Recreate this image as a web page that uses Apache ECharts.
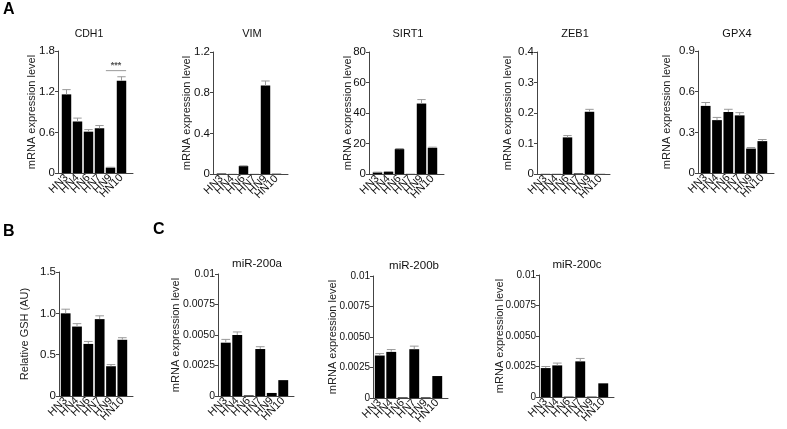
<!DOCTYPE html>
<html><head><meta charset="utf-8">
<script src="https://cdn.jsdelivr.net/npm/echarts@6/dist/echarts.min.js"></script>
<style>html,body{margin:0;padding:0;background:#fff}#c{width:787px;height:429px}</style>
</head><body><div id="c"></div>
<script>
const cats = ['HN3','HN4','HN6','HN7','HN9','HN10'];

const cdh1 = [1.16, 0.76, 0.61, 0.66, 0.08, 1.36];
const cdh1Err = [0.07, 0.05, 0.03, 0.04, 0.005, 0.06];
const vim = [0.005, 0.001, 0.078, 0.001, 0.87, 0.003];
const vimErr = [0, 0, 0.003, 0, 0.045, 0];
const sirt1 = [1.1, 1.5, 16.3, 0.1, 46.2, 17.2];
const sirt1Err = [0.1, 0.1, 0.4, 0, 2.6, 0.4];
const zeb1 = [0.0005, 0.0005, 0.12, 0.002, 0.204, 0.0005];
const zeb1Err = [0, 0, 0.006, 0, 0.008, 0];
const gpx4 = [0.495, 0.39, 0.45, 0.425, 0.18, 0.235];
const gpx4Err = [0.025, 0.02, 0.02, 0.02, 0.008, 0.012];
const gsh = [1.0, 0.84, 0.63, 0.93, 0.36, 0.68];
const gshErr = [0.05, 0.035, 0.03, 0.04, 0.02, 0.025];
const mir200a = [0.00437, 0.0050, 0.00005, 0.00385, 0.00025, 0.0013];
const mir200aErr = [0.00027, 0.00025, 0, 0.00019, 0, 0];
const mir200b = [0.00348, 0.00378, 0.00005, 0.0040, 0.00005, 0.0018];
const mir200bErr = [0.00016, 0.00019, 0, 0.00025, 0, 0];
const mir200c = [0.00237, 0.00259, 0.00003, 0.00292, 0.00003, 0.00112];
const mir200cErr = [0.00013, 0.00019, 0, 0.00024, 0, 0];

const ticksCDH1 = ['0','0.6','1.2','1.8'];
const ticksVIM = ['0','0.4','0.8','1.2'];
const ticksSIRT1 = ['0','20','40','60','80'];
const ticksZEB1 = ['0','0.1','0.2','0.3','0.4'];
const ticksGPX4 = ['0','0.3','0.6','0.9'];
const ticksGSH = ['0','0.5','1.0','1.5'];
const ticksMiR = ['0','0.0025','0.0050','0.0075','0.01'];

const sigCDH1 = {from: 'HN9', to: 'HN10', y: 1.51, label: '***'};

const FONT = 'Liberation Sans, Arial, sans-serif';

const panels = [
  {title:'CDH1', data:cdh1, err:cdh1Err, max:1.8, interval:0.6, ticks:ticksCDH1, name:'mRNA expression level',
   ax:58, top:51, bottom:173, right:133, dl:61, dw:66, nameGap:21, tx:89, ty:34, tfs:10.5, fs:11.5, sig:sigCDH1},
  {title:'VIM', data:vim, err:vimErr, max:1.2, interval:0.4, ticks:ticksVIM, name:'mRNA expression level',
   ax:213, top:52, bottom:174, right:288, dl:216, dw:66, nameGap:21, tx:252, ty:34, tfs:11, fs:11.5},
  {title:'SIRT1', data:sirt1, err:sirt1Err, max:80, interval:20, ticks:ticksSIRT1, name:'mRNA expression level',
   ax:369, top:52, bottom:174, right:444, dl:372, dw:66, nameGap:16, tx:408, ty:34, tfs:11, fs:11.5},
  {title:'ZEB1', data:zeb1, err:zeb1Err, max:0.4, interval:0.1, ticks:ticksZEB1, name:'mRNA expression level',
   ax:537, top:52, bottom:174, right:610, dl:540, dw:66, nameGap:24, tx:575, ty:34, tfs:11, fs:11.5},
  {title:'GPX4', data:gpx4, err:gpx4Err, max:0.9, interval:0.3, ticks:ticksGPX4, name:'mRNA expression level',
   ax:698, top:51, bottom:173, right:774, dl:700, dw:68, nameGap:26, tx:737, ty:34, tfs:11, fs:11.5},
  {title:'', data:gsh, err:gshErr, max:1.5, interval:0.5, ticks:ticksGSH, name:'Relative GSH (AU)',
   ax:59, top:272, bottom:396, right:133, dl:60, dw:68, nameGap:29, fs:11.5},
  {title:'miR-200a', data:mir200a, err:mir200aErr, max:0.01, interval:0.0025, ticks:ticksMiR, name:'mRNA expression level',
   ax:218, top:274, bottom:396, right:294, dl:220, dw:69, nameGap:36.5, tx:257, ty:264, tfs:11.5, fs:10.5},
  {title:'miR-200b', data:mir200b, err:mir200bErr, max:0.01, interval:0.0025, ticks:ticksMiR, name:'mRNA expression level',
   ax:373, top:276, bottom:398, right:448, dl:374, dw:69, nameGap:35, tx:414, ty:266, tfs:11.5, fs:10},
  {title:'miR-200c', data:mir200c, err:mir200cErr, max:0.01, interval:0.0025, ticks:ticksMiR, name:'mRNA expression level',
   ax:539, top:275, bottom:397, right:614, dl:540, dw:69, nameGap:34, tx:577, ty:265, tfs:11.5, fs:10}
];

const AXC = '#444';
const grid = [], xAxis = [], yAxis = [], series = [], graphic = [];

function errRender(params, api) {
  const i = api.value(0), v = api.value(1), e = api.value(2);
  if (!e) return;
  const p0 = api.coord([i, v]);
  const p1 = api.coord([i, v + e]);
  const half = api.size([1, 0])[0] * 0.38;
  return {type:'group', children:[
    {type:'line', shape:{x1:p0[0], y1:p0[1], x2:p1[0], y2:p1[1]}, style:{stroke:'#999', lineWidth:1}},
    {type:'line', shape:{x1:p1[0]-half, y1:p1[1], x2:p1[0]+half, y2:p1[1]}, style:{stroke:'#999', lineWidth:1}}
  ]};
}

function makeSigRender(label) {
  return function(params, api) {
    const a = api.value(0), b = api.value(1), y = api.value(2);
    const band = api.size([1, 0])[0];
    const pa = api.coord([a, y]), pb = api.coord([b, y]);
    const x1 = pa[0] - band * 0.42, x2 = pb[0] + band * 0.42;
    return {type:'group', children:[
      {type:'line', shape:{x1:x1, y1:pa[1], x2:x2, y2:pa[1]}, style:{stroke:'#999', lineWidth:1}},
      {type:'text', style:{x:(x1+x2)/2, y:pa[1]-1, text:label, fill:'#555', font:'bold 9px ' + FONT, textAlign:'center', textVerticalAlign:'bottom'}}
    ]};
  };
}

panels.forEach(function(p) {
  const h = p.bottom - p.top;
  const fg = grid.length;
  grid.push({left:p.ax, top:p.top, width:p.right - p.ax, height:h, containLabel:false});
  xAxis.push({gridIndex:fg, type:'value', min:0, max:1, axisLine:{show:true, lineStyle:{color:AXC, width:1}},
    axisTick:{show:false}, axisLabel:{show:false}, splitLine:{show:false}});
  yAxis.push({gridIndex:fg, type:'value', min:0, max:p.max, interval:p.interval,
    axisLine:{show:true, lineStyle:{color:AXC, width:1}},
    axisTick:{show:true, length:3, lineStyle:{color:AXC}},
    axisLabel:{color:'#111', fontSize:p.fs, fontFamily:FONT, margin:3, formatter:function(v, i){ return p.ticks[i]; }},
    splitLine:{show:false},
    name:p.name, nameLocation:'middle', nameRotate:90, nameGap:p.nameGap, nameMoveOverlap:false,
    nameTextStyle:{color:'#222', fontSize:11, fontFamily:FONT}});
  const dg = grid.length;
  grid.push({left:p.dl, top:p.top, width:p.dw, height:h, containLabel:false});
  const xi = xAxis.length, yi = yAxis.length;
  xAxis.push({gridIndex:dg, type:'category', data:cats, axisLine:{show:false}, axisTick:{show:false},
    axisLabel:{rotate:45, fontSize:11, fontFamily:FONT, color:'#111', margin:3, interval:0}});
  yAxis.push({gridIndex:dg, type:'value', min:0, max:p.max, show:false, splitLine:{show:false}});
  series.push({type:'bar', xAxisIndex:xi, yAxisIndex:yi, data:p.data, barCategoryGap:'14%',
    itemStyle:{color:'#000'}, silent:true, animation:false});
  series.push({type:'custom', xAxisIndex:xi, yAxisIndex:yi, renderItem:errRender, z:3,
    data:p.data.map(function(v, i){ return [i, v, p.err[i]]; }), animation:false, silent:true});
  if (p.sig) {
    series.push({type:'custom', xAxisIndex:xi, yAxisIndex:yi, renderItem:makeSigRender(p.sig.label), z:3,
      data:[[cats.indexOf(p.sig.from), cats.indexOf(p.sig.to), p.sig.y]], animation:false, silent:true});
  }
  if (p.title) {
    graphic.push({type:'text', x:p.tx, y:p.ty, style:{text:p.title, fill:'#111', font:p.tfs + 'px ' + FONT,
      textAlign:'center', textVerticalAlign:'middle'}});
  }
});

graphic.push({type:'text', x:3, y:2, style:{text:'A', fill:'#000', font:'bold 16px ' + FONT}});
graphic.push({type:'text', x:3, y:224, style:{text:'B', fill:'#000', font:'bold 16px ' + FONT}});
graphic.push({type:'text', x:153, y:222, style:{text:'C', fill:'#000', font:'bold 16px ' + FONT}});

const chart = echarts.init(document.getElementById('c'), null, {renderer:'canvas'});
chart.setOption({animation:false, backgroundColor:'#fff', grid:grid, xAxis:xAxis, yAxis:yAxis, series:series, graphic:graphic});
</script>
</body></html>
